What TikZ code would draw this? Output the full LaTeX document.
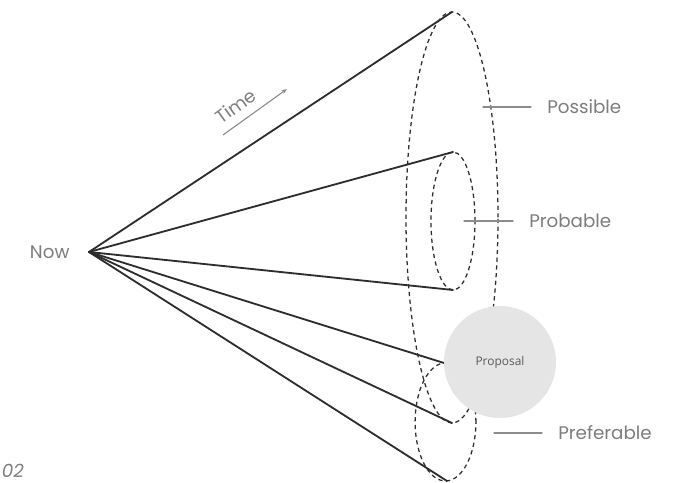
\documentclass[tikz,border=0pt]{standalone}
\usepackage{fontspec}
\setmainfont{Poppins}
\newfontfamily\propfont{Open Sans}
\usepackage{tikz}
\usetikzlibrary{calc}
\usetikzlibrary{arrows.meta,positioning}
\usepackage{tkz-euclide}
\definecolor{labelgray}{RGB}{125,125,125}
\definecolor{linegray}{RGB}{45,45,45}
\definecolor{leadgray}{RGB}{140,140,140}
\definecolor{propfill}{RGB}{229,229,229}
\tikzset{
  cone/.style={color=linegray,line width=1.3pt},
  ell/.style={color=linegray,line width=0.9pt,dash pattern=on 3pt off 2.5pt},
  lead/.style={color=leadgray,line width=0.8pt},
  lbl/.style={text=labelgray,inner sep=0pt,font=\fontsize{13}{15}\selectfont}
}

\begin{document}
\begin{tikzpicture}[scale=1, transform shape]
        \useasboundingbox (0,0) rectangle (16.85,12.075);
        \tkzDefPoint(2.225,5.775){O}
        \tkzDefPoint(11.3,11.775){A} \tkzDefPoint(11.3,1.5){E}
        \tkzDefPoint(11.325,8.275){B} \tkzDefPoint(11.325,4.825){C}
        \tkzDefPoint(11.1,3.0){D} \tkzDefPoint(11.175,0.05){F}
        \tkzDefMidPoint(A,E) \tkzGetPoint{M1}
        \tkzDefMidPoint(B,C) \tkzGetPoint{M2}
        \tkzDefMidPoint(D,F) \tkzGetPoint{M3}
        \tkzDefPoint(12.5,3.025){P}
        \tkzDefPoint(12.075,9.4){L1} \tkzDefPoint(13.275,9.4){R1}
        \tkzDefPoint(11.6,6.55){L2} \tkzDefPoint(12.825,6.55){R2}
        \tkzDefPoint(12.35,1.25){L3} \tkzDefPoint(13.55,1.25){R3}
        \tkzDefPoint(5.575,8.7){T1} \tkzDefPoint(7.175,9.85){T2}

        \tkzDrawSegments[cone](O,A O,B O,C O,D O,E O,F)

        \draw[ell] (M1) ellipse [x radius=1.15, y radius=5.1375];
        \draw[ell] (M2) ellipse [x radius=0.55, y radius=1.725];
        \draw[ell] (M3) ellipse [x radius=0.76, y radius=1.475];

        \node[circle,fill=propfill,minimum size=2.8cm,inner sep=0pt,
              text=black!65,font=\propfont\fontsize{8.5}{10}\selectfont] (proposal) at (P) {Proposal};

        \tkzDrawSegments[lead](L1,R1 L2,R2 L3,R3)
        \draw[lead,-{Stealth[length=4pt,width=3pt]}] (T1) -- (T2);

        \node[lbl,right=0.4cm of R1] (possible) {Possible};
        \node[lbl,right=0.4cm of R2] (probable) {Probable};
        \node[lbl,right=0.4cm of R3] (preferable) {Preferable};
        \node[lbl,left=0.48cm of O] (now) {Now};
        \node[lbl,rotate=35.7] (time) at (5.9,9.42) {Time};
        \node[lbl,font=\itshape\fontsize{13}{15}\selectfont] (num) at (0.32,0.3) {02};
    \end{tikzpicture}
\end{document}
